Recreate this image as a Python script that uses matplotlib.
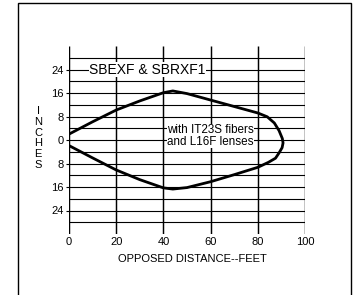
import matplotlib
matplotlib.use("Agg")
import matplotlib.pyplot as plt
from matplotlib.patches import Rectangle

plt.rcParams['font.family'] = ['Liberation Sans', 'DejaVu Sans']

# beam pattern outline (distance in feet, offset in inches)
upper_x = [0, 10, 20, 30, 40, 44, 50, 60, 70, 80, 84, 87, 89, 90.4, 90.7]
upper_y = [2, 6.2, 10.2, 13.3, 16.1, 16.7, 15.8, 13.6, 11.4, 9.2, 7.9, 5.8, 3.2, 0.5, -1]
lower_x = [90.7, 90.3, 89, 87.5, 84.5, 80, 70, 60, 50, 44, 40, 30, 20, 10, 0]
lower_y = [-1, -2.6, -4.4, -6.2, -7.6, -9.3, -11.8, -14.2, -16.2, -16.7, -16.3, -13.5, -10.2, -6.1, -1.9]

x_ticks = [0, 20, 40, 60, 80, 100]
y_ticks = [24, 16, 8, 0, -8, -16, -24]
y_grid = list(range(-28, 29, 4))

fig = plt.figure(figsize=(3.54, 2.95), dpi=100)
# outer frame
fig.patches.append(Rectangle((18 / 354, -0.05), (351 - 18) / 354, 1 - 3 / 295 + 0.05,
                             transform=fig.transFigure, fill=False, edgecolor='black', lw=1.0))

ax = fig.add_axes([69 / 354, (295 - 234) / 295, 236 / 354, 188 / 295])
ax.set_xlim(0, 100)
ax.set_ylim(-32, 32)
for s in ax.spines.values():
    s.set_visible(False)

ax.hlines(y_grid, 0, 100, color='black', lw=0.8)
ax.vlines(x_ticks, -32, 32, color='black', lw=1.05)

ax.plot(upper_x + lower_x, upper_y + lower_y, color='black', lw=2.0, solid_capstyle='round')

ax.set_xticks(x_ticks)
ax.set_xticklabels([str(v) for v in x_ticks])
ax.set_yticks(y_ticks)
ax.set_yticklabels([str(abs(v)) for v in y_ticks])
ax.tick_params(axis='x', length=0, pad=2, labelsize=8)
ax.tick_params(axis='y', length=2.5, width=0.8, pad=1.5, labelsize=8)

ax.text(33.3, 24, 'SBEXF & SBRXF1', fontsize=10, ha='center', va='center',
        bbox=dict(facecolor='white', edgecolor='none', pad=0.5))
ax.text(60, 1.4, 'with IT23S fibers\nand L16F lenses', fontsize=8.4, ha='center', va='center',
        linespacing=0.98, bbox=dict(facecolor='white', edgecolor='none', pad=0.3))

fig.text(192 / 354, 1 - 259 / 295, 'OPPOSED DISTANCE--FEET', fontsize=8, ha='center', va='center')
fig.text(38 / 354, 1 - 138 / 295, 'I\nN\nC\nH\nE\nS', fontsize=8, ha='center', va='center',
         linespacing=1.08)

fig.savefig('out.png', dpi=100)
